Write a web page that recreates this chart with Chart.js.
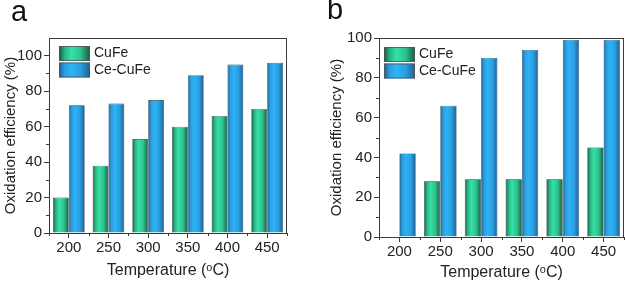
<!DOCTYPE html>
<html><head><meta charset="utf-8">
<script src="https://cdn.jsdelivr.net/npm/chart.js@4"></script>
<style>
html,body{margin:0;padding:0;background:#fff;}
body{width:625px;height:283px;position:relative;overflow:hidden;font-family:"Liberation Sans",Arial,sans-serif;}
canvas{position:absolute;top:0;}
.lbl{position:absolute;font-size:29px;color:#111;line-height:1;}
</style></head><body>
<canvas id="ca" width="312" height="283" style="left:0"></canvas>
<canvas id="cb" width="313" height="283" style="left:312px"></canvas>
<div class="lbl" style="left:11px;top:-3px">a</div>
<div class="lbl" style="left:327px;top:-5px">b</div>
<script>
// ---- data ----
const temperatures = ['200','250','300','350','400','450'];
const seriesNames = ['CuFe','Ce-CuFe'];
const a_CuFe   = [20, 38, 53, 60, 66, 70];
const a_CeCuFe = [72, 73, 75, 89, 95, 96];
const b_CuFe   = [0, 28, 29, 29, 29, 45];
const b_CeCuFe = [42, 66, 90, 94, 99, 99];
const yTickValues = [0,10,20,30,40,50,60,70,80,90,100];

const TXT = '#222', AX = '#3a3a3a';
const FONT = '"Liberation Sans", Arial, sans-serif';
const stops = [
  [[0,'#1b523d'],[0.18,'#27b583'],[0.4,'#37e0a6'],[0.7,'#2cc18d'],[1,'#1b5a43']],
  [[0,'#1f5f8f'],[0.18,'#2a9ede'],[0.4,'#2eb3f7'],[0.7,'#2a9ee0'],[1,'#1f5f90']]
];
function mkGrad(ctx, x0, x1, di){
  const g = ctx.createLinearGradient(x0,0,x1,0);
  stops[di].forEach(([o,c])=>g.addColorStop(o,c));
  return g;
}
const decor = {
  id:'decor',
  beforeDatasetsDraw(chart){
    const ctx = chart.ctx;
    chart.data.datasets.forEach((ds,di)=>{
      chart.getDatasetMeta(di).data.forEach(el=>{
        const {x,width} = el.getProps(['x','width'],true);
        el.options = Object.assign({}, el.options, {backgroundColor: mkGrad(ctx, x-width/2, x+width/2, di)});
      });
    });
  },
  afterDraw(chart){
    const ctx = chart.ctx, ca = chart.chartArea;
    const y = chart.scales.y, x = chart.scales.x;
    ctx.save();
    ctx.strokeStyle = AX; ctx.lineWidth = 1;
    ctx.strokeRect(Math.round(ca.left)+0.5, Math.round(ca.top)+0.5, Math.round(ca.right-ca.left)-1, Math.round(ca.bottom-ca.top));
    yTickValues.filter(v=>v%20!==0).forEach(v=>{
      const py = Math.round(y.getPixelForValue(v))+0.5;
      ctx.beginPath(); ctx.moveTo(ca.left-3, py); ctx.lineTo(ca.left, py); ctx.stroke();
    });
    for(let i=0;i<=temperatures.length;i++){
      const px = Math.round(x.getPixelForValue(i-0.5))+0.5;
      ctx.beginPath(); ctx.moveTo(px, ca.bottom); ctx.lineTo(px, ca.bottom+3); ctx.stroke();
    }
    const opts = chart.options.plugins.decor;
    chart.data.datasets.forEach((ds,di)=>{
      const lx = ca.left+opts.lx, ly = ca.top+opts.ly+di*16.5;
      ctx.fillStyle = mkGrad(ctx, lx, lx+31, di);
      ctx.fillRect(lx, ly, 31, 15);
      ctx.strokeStyle = '#555'; ctx.lineWidth=0.8;
      ctx.strokeRect(lx+0.5, ly+0.5, 30, 14);
      ctx.fillStyle = TXT; ctx.font = '14px '+FONT; ctx.textBaseline='middle'; ctx.textAlign='left';
      ctx.fillText(ds.label, lx+35, ly+7.5);
    });
    ctx.restore();
  }
};
function build(id, d1, d2, cfg){
  return new Chart(document.getElementById(id), {
    type:'bar',
    data:{labels:temperatures, datasets:[
      {label:seriesNames[0], data:d1, backgroundColor:'#30d39a', borderColor:'#2a3a33', borderWidth:0.6, borderSkipped:'bottom'},
      {label:seriesNames[1], data:d2, backgroundColor:'#2aaaf0', borderColor:'#243a4a', borderWidth:0.6, borderSkipped:'bottom'}
    ]},
    plugins:[decor],
    options:{
      responsive:false, animation:false,
      categoryPercentage:0.8, barPercentage:1.0,
      layout:{padding:{left:0, top:38, right:cfg.right, bottom:0}},
      plugins:{legend:{display:false}, tooltip:{enabled:false}, decor:{lx:cfg.lx, ly:cfg.ly}},
      scales:{
        x:{
          grid:{offset:false, drawOnChartArea:false, drawTicks:true, tickLength:5, color:AX},
          border:{display:true, color:AX, width:1},
          ticks:{color:TXT, font:{family:FONT, size:15}, padding:1, maxRotation:0},
          title:{display:true, text:'Temperature (ᵒC)', color:TXT, font:{family:FONT, size:16}, padding:{top:0,bottom:cfg.xtb}},
          afterFit:s=>{s.height = cfg.xh;}
        },
        y:{
          min:0, max:cfg.ymax,
          afterBuildTicks:s=>{s.ticks = yTickValues.map(v=>({value:v}));},
          grid:{drawOnChartArea:false, drawTicks:true, tickLength:5, color:AX,
                tickColor:c=> (c.tick && c.tick.value%20===0) ? AX : 'rgba(0,0,0,0)'},
          border:{display:true, color:AX, width:1},
          ticks:{color:TXT, font:{family:FONT, size:15}, padding:2, callback:v=> v%20===0 ? v : ''},
          title:{display:true, text:'Oxidation efficiency (%)', color:TXT, font:{family:FONT, size:15}, padding:{top:cfg.ytp,bottom:0}},
          afterFit:s=>{s.width = cfg.yw;}
        }
      }
    }
  });
}
build('ca', a_CuFe, a_CeCuFe, {right:25, ymax:110, yw:49, xh:50, xtb:3, ytp:2, lx:10, ly:8});
build('cb', b_CuFe, b_CeCuFe, {right:1, ymax:100, yw:67, xh:46, xtb:1, ytp:16, lx:5, ly:9});
</script>
</body></html>
